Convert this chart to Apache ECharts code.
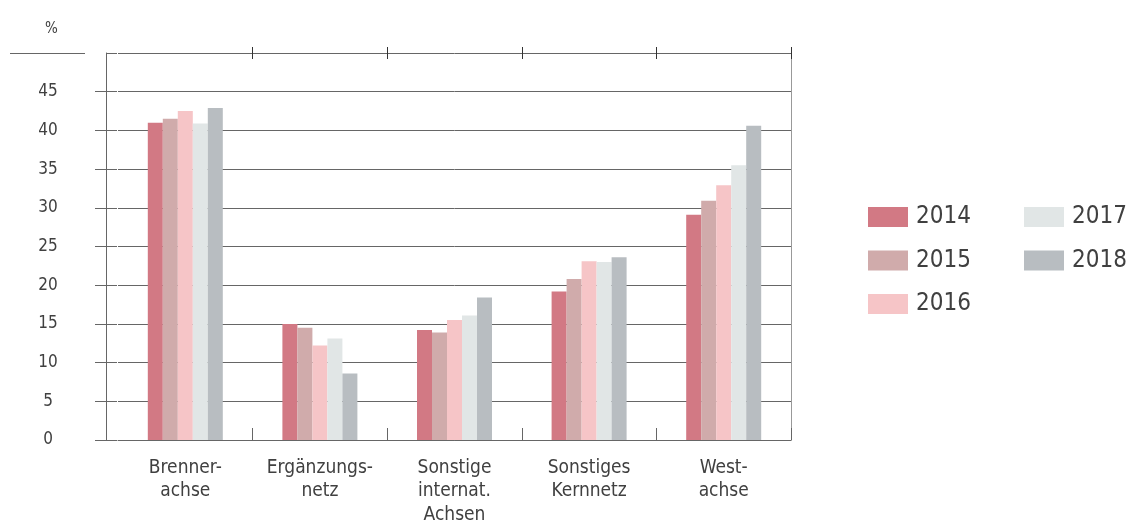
<!DOCTYPE html>
<html>
<head>
<meta charset="utf-8">
<script src="https://cdn.jsdelivr.net/npm/echarts@6/dist/echarts.min.js"></script>
<style>
html,body{margin:0;padding:0;background:#fff;}
#chart{width:1133px;height:523px;}
</style>
</head>
<body>
<div id="chart"></div>
<script>
const categories = ['Brenner-\nachse', 'Ergänzungs-\nnetz', 'Sonstige\ninternat.\nAchsen', 'Sonstiges\nKernnetz', 'West-\nachse'];
const years = ['2014', '2015', '2016', '2017', '2018'];
const v2014 = [41.0, 15.0, 14.2, 19.2, 29.1];
const v2015 = [41.5, 14.5, 13.9, 20.8, 30.9];
const v2016 = [42.5, 12.2, 15.5, 23.1, 32.9];
const v2017 = [40.9, 13.1, 16.1, 23.0, 35.5];
const v2018 = [42.9, 8.6, 18.4, 23.6, 40.6];
const yTicks = {min: 0, max: 50, interval: 5};

const values = [v2014, v2015, v2016, v2017, v2018];
const colors = ['#d27984', '#d0abab', '#f6c5c7', '#e1e6e6', '#b8bdc1'];
const FONT = '"DejaVu Sans Condensed", "Liberation Sans Narrow", Roboto, sans-serif';
const LINE = '#666';
const TEXT = '#404040';

const chart = echarts.init(document.getElementById('chart'), null, {renderer: 'canvas'});
const series = years.map((y, i) => ({
  name: y,
  type: 'bar',
  xAxisIndex: 0,
  yAxisIndex: 0,
  data: values[i],
  barWidth: 15,
  barGap: '0%',
  itemStyle: {color: colors[i]},
  silent: true
}));

const legendBase = {orient: 'vertical', top: 200, itemWidth: 40, itemHeight: 20, itemGap: 19.5, icon: 'rect',
  textStyle: {fontFamily: FONT, fontSize: 24, color: TEXT, padding: [0, 0, 0, 3]}};

const yCommon = {type: 'value', min: yTicks.min, max: yTicks.max, interval: yTicks.interval};
const innerTicks = function (i) { return i > 0 && i < categories.length; };

chart.setOption({
  animation: false,
  backgroundColor: '#fff',
  title: {text: '%', left: 40, top: 17, textStyle: {fontFamily: FONT, fontSize: 15, fontWeight: 'normal', color: TEXT}},
  graphic: [
    {type: 'line', shape: {x1: 10, y1: 53.5, x2: 85, y2: 53.5}, style: {stroke: LINE, lineWidth: 1}}
  ],
  grid: {left: 118, right: 342, top: 53, bottom: 83, containLabel: false, outerBoundsMode: 'none'},
  legend: [
    Object.assign({data: years.slice(0, 3), left: 863}, legendBase),
    Object.assign({data: years.slice(3), left: 1019}, legendBase)
  ],
  xAxis: [
    {type: 'category', data: categories, position: 'bottom',
     axisLine: {show: true, onZero: false, lineStyle: {color: LINE, width: 1}},
     axisTick: {show: true, inside: true, length: 12, lineStyle: {color: LINE}, interval: innerTicks},
     axisLabel: {fontFamily: FONT, fontSize: 19, color: TEXT, lineHeight: 23.5, margin: 16, interval: 0}},
    {type: 'category', data: categories, position: 'top', offset: -6,
     axisLine: {show: false, onZero: false},
     axisTick: {show: true, inside: false, length: 12, lineStyle: {color: '#333'}, interval: innerTicks},
     axisLabel: {show: false}}
  ],
  yAxis: [
    Object.assign({position: 'left', offset: 12,
     axisLine: {show: true, lineStyle: {color: LINE}},
     axisTick: {show: true, inside: false, length: 11, lineStyle: {color: LINE}},
     splitLine: {show: true, lineStyle: {color: LINE, width: 1}},
     axisLabel: {fontFamily: FONT, fontSize: 17, color: TEXT, align: 'center', margin: 58, showMaxLabel: false}}, yCommon),
    Object.assign({position: 'right',
     axisLine: {show: true, lineStyle: {color: '#999'}},
     axisTick: {show: false}, splitLine: {show: false}, axisLabel: {show: false}}, yCommon),
    Object.assign({position: 'left', offset: 12,
     axisLine: {show: false},
     axisTick: {show: true, inside: true, length: 11, lineStyle: {color: LINE}},
     splitLine: {show: false},
     axisLabel: {show: false}}, yCommon)
  ],
  series: series
});
</script>
</body>
</html>
